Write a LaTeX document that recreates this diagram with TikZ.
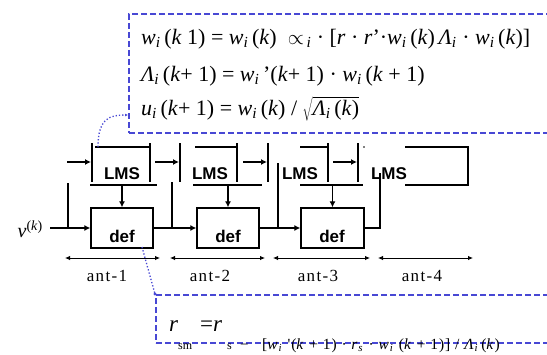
\documentclass[tikz,border=0pt]{standalone}
\usepackage{fontspec}
\setmainfont{Liberation Serif}
\newfontfamily\lsans{Liberation Sans}
\newfontfamily\antfont{Liberation Serif}[LetterSpace=8]
\newfontfamily\subfont{Liberation Serif}[LetterSpace=6]
\usetikzlibrary{arrows.meta}
\definecolor{dblue}{RGB}{72,72,212}
\newcommand{\eqw}{\textit{w}\textsubscript{\textit{i}}}
\newcommand{\eqL}{\textit{Λ}\textsubscript{\textit{i}}}
\newcommand{\eqk}{\textit{k}}
\begin{document}
\begin{tikzpicture}[x=1pt,y=-1pt,
  blk/.style={line width=1.6pt, black},
  arr/.style={blk, -{Latex[length=6pt,width=6pt]}},
  antarr/.style={line width=0.9pt, {Latex[length=5pt,width=4.5pt]}-{Latex[length=5pt,width=4.5pt]}},
  defbox/.style={draw, line width=1.3pt, minimum width=62pt, minimum height=40pt, inner sep=0pt},
  lmslab/.style={font=\lsans\bfseries\fontsize{17}{17}\selectfont, inner sep=0pt},
  deflab/.style={font=\lsans\bfseries\fontsize{17}{17}\selectfont, inner sep=0pt},
  antlab/.style={font=\antfont\fontsize{17}{17}\selectfont, inner sep=0pt},
  eqn/.style={font=\fontsize{22}{24}\selectfont, inner sep=0pt, anchor=base west},
  dashbox/.style={draw=dblue, line width=2.2pt, dash pattern=on 6pt off 3pt, inner sep=0pt, anchor=north west},
  dotlink/.style={draw=dblue, line width=1.3pt, dotted}]
\useasboundingbox (0,0) rectangle (547,354);
\fill[white] (0,0) rectangle (547,354);

% ---- top equation box ----
\node[dashbox, minimum width=440pt, minimum height=119pt] (eqbox) at (128,13) {};
\node[eqn] (eq1) at (141,44) {\eqw\,(\eqk\ 1) = \eqw\,(\eqk)\ \ $\propto$\textsubscript{\,\textit{i}} · [\textit{r} · \textit{r}'·\eqw\,(\eqk)\,\eqL\ · \eqw\,(\eqk)]};
\node[eqn] (eq2) at (141,81) {\eqL\,(\eqk+ 1) = \eqw\,'(\eqk+ 1) · \eqw\,(\eqk\ + 1)};
\node[eqn] (eq3) at (141,115) {\textit{u}\textsubscript{\textit{i}}\,(\eqk+ 1) = \eqw\,(\eqk) / $\sqrt{\mbox{\eqL\,(\eqk)}}$};

% ---- bottom box ----
\node[dashbox, minimum width=420pt, minimum height=48pt] (rbox) at (155,294) {};
\node[eqn, font=\fontsize{23}{24}\selectfont] (req) at (169,331) {\textit{r}\hspace{22pt}=\textit{r}};
\node[eqn, font=\fontsize{12}{14}\selectfont] (rsub1) at (178,349) {sm};
\node[eqn, font=\fontsize{12}{14}\selectfont] (rsub2) at (227,349) {s};
\node[eqn, font=\fontsize{15}{16}\selectfont] (rsub3) at (240,349) {−};
\node[eqn, font=\subfont\fontsize{15.5}{16}\selectfont] (rsub4) at (262,349) {[\eqw\ '(\eqk\ + 1) · \textit{r}\textsubscript{\textit{s}} · \eqw\ (\eqk\ + 1)] / \eqL\,(\eqk)};

% ---- def boxes ----
\node[defbox] (d1) at (122,228) {};
\node[defbox] (d2) at (228,228) {};
\node[defbox, minimum width=63pt] (d3) at (332.5,228) {};
\node[deflab] (t1) at (122,236) {def};
\node[deflab] (t2) at (228,236) {def};
\node[deflab] (t3) at (332,236) {def};

% ---- LMS labels ----
\node[lmslab] (l1) at (122,174) {LMS};
\node[lmslab] (l2) at (210,174) {LMS};
\node[lmslab] (l3) at (300,174) {LMS};
\node[lmslab] (l4) at (389,174) {LMS};

% ---- input ----
\node[font=\fontsize{20}{20}\selectfont, inner sep=0pt, anchor=east] (vin) at (43,229) {\textit{v}\textsuperscript{(\textit{k})}};
\coordinate (vstart) at (50,228);
\draw[arr] (vstart) -- (d1.west);
\draw[blk] (68,183) -- (68,228);

% ---- LMS 1 ----
\coordinate (a1) at (67,162);
\coordinate (a1e) at (91,162);
\draw[arr] (a1) -- (a1e);
\draw[blk] (92,143) -- (92,182);
\draw[blk] (95,147) -- (150,147);
\draw[blk] (150,143) -- (150,182);
\draw[blk] (90,185) -- (157,185);
\coordinate (b1) at (122,185);
\draw[arr] (b1) -- (d1.north);

% ---- def1 -> def2 ----
\draw[arr] (d1.east) -- (d2.west);
\draw[blk] (172,182) -- (172,228);

% ---- LMS 2 ----
\coordinate (a2) at (155,162);
\coordinate (a2e) at (179,162);
\draw[arr] (a2) -- (a2e);
\draw[blk] (180,143) -- (180,182);
\draw[blk] (195,147) -- (237,147);
\draw[blk] (237,143) -- (237,182);
\draw[blk] (193,185) -- (262,185);
\coordinate (b2) at (228,185);
\draw[arr] (b2) -- (d2.north);

% ---- def2 -> def3 ----
\draw[arr] (d2.east) -- (d3.west);
\draw[blk] (278,163) -- (278,228);

% ---- LMS 3 ----
\coordinate (a3) at (243,162);
\coordinate (a3e) at (267,162);
\draw[arr] (a3) -- (a3e);
\draw[blk] (268,143) -- (268,182);
\draw[blk] (300,147) -- (328,147);
\draw[blk] (328,143) -- (328,182);
\draw[blk] (300,185) -- (363,185);
\coordinate (b3) at (332.5,185);
\draw[arr] (b3) -- (d3.north);
\coordinate (a4) at (333,162);
\coordinate (a4e) at (357,162);
\draw[arr] (a4) -- (a4e);
\draw[blk] (358,143) -- (358,182);
\fill (364,147) circle (0.9pt);

% ---- def3 output ----
\coordinate (o3) at (380,173);
\draw[blk] (d3.east) -| (o3);

% ---- LMS 4 ----
\draw[blk] (405,147) -- (468,147) -- (468,185) -- (405,185);

% ---- antenna spans ----
\coordinate (s1a) at (65,258);  \coordinate (s1b) at (160,258);
\coordinate (s2a) at (170,258); \coordinate (s2b) at (265,258);
\coordinate (s3a) at (273,258); \coordinate (s3b) at (370,258);
\coordinate (s4a) at (378,258); \coordinate (s4b) at (473,258);
\draw[antarr] (s1a) -- (s1b);
\draw[antarr] (s2a) -- (s2b);
\draw[antarr] (s3a) -- (s3b);
\draw[antarr] (s4a) -- (s4b);
\node[antlab] (n1) at (107,276) {ant-1};
\node[antlab] (n2) at (210,276) {ant-2};
\node[antlab] (n3) at (318,276) {ant-3};
\node[antlab] (n4) at (422,276) {ant-4};

% ---- dotted links ----
\coordinate (lk1) at (98,147);
\coordinate (lk1e) at (128,115);
\draw[dotlink, -{Latex[length=3pt,width=3pt]}] (lk1) .. controls (98,118) and (110,115) .. (lk1e);
\coordinate (lk2) at (142,247);
\coordinate (lk2e) at (155,294);
\draw[dotlink] (lk2) -- (lk2e);
\fill[dblue] (lk2e) circle (1.6pt);
\end{tikzpicture}
\end{document}
